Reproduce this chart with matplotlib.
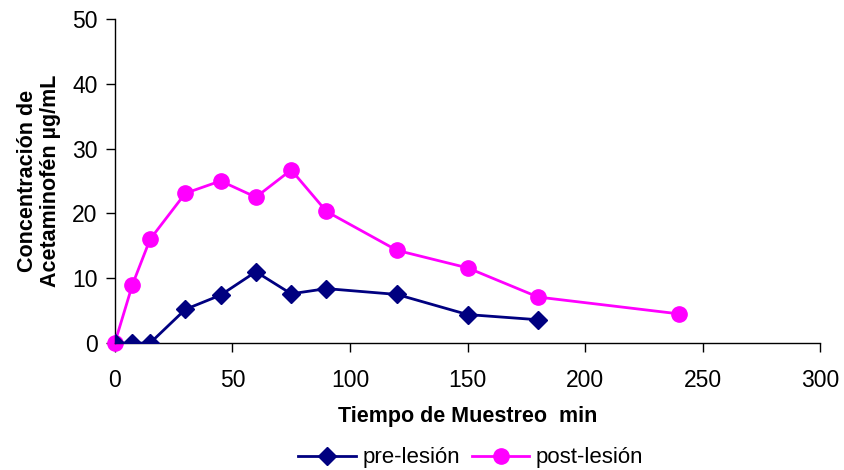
import matplotlib
matplotlib.use("Agg")
import matplotlib.pyplot as plt

plt.rcParams["font.family"] = ["Liberation Sans", "DejaVu Sans"]

# data
t_pre = [0, 7.5, 15, 30, 45, 60, 75, 90, 120, 150, 180]
conc_pre = [0, 0, 0, 5.2, 7.4, 11.0, 7.6, 8.4, 7.5, 4.4, 3.6]
t_post = [0, 7.5, 15, 30, 45, 60, 75, 90, 120, 150, 180, 240]
conc_post = [0, 9.0, 16.0, 23.1, 25.0, 22.5, 26.7, 20.3, 14.3, 11.6, 7.1, 4.5]

fig = plt.figure(figsize=(8.44, 4.70), dpi=100)
ax = fig.add_axes([0.136, 0.270, 0.836, 0.690])

ax.plot(t_pre, conc_pre, color="#000080", marker="D", markersize=9, lw=2,
        label="pre-lesión", zorder=3)
ax.plot(t_post, conc_post, color="#FF00FF", marker="o", markersize=11, lw=2,
        label="post-lesión", zorder=2, clip_on=False)

ax.set_xlim(0, 300)
ax.set_ylim(0, 50)
ax.set_xticks(range(0, 301, 50))
ax.set_yticks(range(0, 51, 10))
ax.tick_params(labelsize=16.5, length=6.5, width=1, colors="black")
ax.tick_params(axis="x", pad=12)
ax.tick_params(axis="y", pad=6)
for s in ["top", "right"]:
    ax.spines[s].set_visible(False)
for s in ["left", "bottom"]:
    ax.spines[s].set_linewidth(1)

ax.set_xlabel("Tiempo de Muestreo  min", fontsize=15.5, fontweight="bold", labelpad=10)
ax.set_ylabel("Concentración de\nAcetaminofén µg/mL", fontsize=15.5, fontweight="bold",
              labelpad=8, linespacing=1.1)

fig.legend(*ax.get_legend_handles_labels(), loc="center",
           bbox_to_anchor=(471 / 844, 1 - 458 / 470), ncol=2, frameon=False,
           fontsize=16, handlelength=2.6, columnspacing=0.5, handletextpad=0.3)

fig.savefig("out.png", dpi=100)
